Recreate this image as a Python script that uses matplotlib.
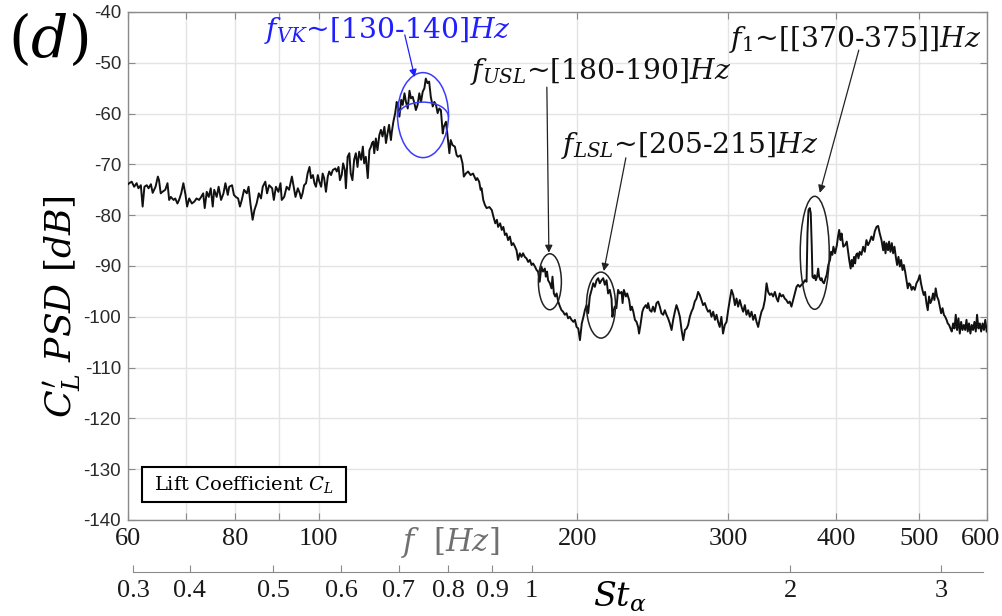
import matplotlib
matplotlib.use("Agg")
import matplotlib.pyplot as plt
from matplotlib.patches import Ellipse, Arc, Rectangle
from matplotlib.transforms import ScaledTranslation

plt.rcParams["axes.unicode_minus"] = False
plt.rcParams["mathtext.fontset"] = "dejavuserif"

# ---- lift-coefficient PSD, split into frequency bands ----
freq_a = [60.0, 60.2, 60.6, 61.0, 61.4, 61.7, 62.1, 62.4, 62.7, 63.1, 63.4, 63.8, 64.1, 64.6,
          65.0, 65.2, 65.5, 65.8, 66.3, 66.7, 67.0, 67.3, 67.8, 68.1, 68.5, 68.8, 69.2, 69.6,
          70.0, 70.3, 70.7, 71.2, 71.7, 72.1, 72.6, 73.0, 73.4, 73.7, 74.1, 74.5, 74.9, 75.3,
          75.6, 76.1, 76.5, 77.0, 77.5, 77.9, 78.4, 78.7, 79.3, 79.7, 80.1, 80.6, 81.0, 81.4,
          81.9, 82.5, 82.9, 83.3, 83.8, 84.2, 84.7, 85.2, 85.7, 86.1, 86.7, 87.1, 87.6, 88.3,
          88.7, 89.2, 89.8, 90.3, 90.6, 91.2, 91.8, 92.4, 93.1, 93.7]
psd_a = [-73.9, -73.7, -73.4, -74.4, -73.7, -74.7, -74.1, -78.3, -74.4, -74.1, -74.7, -73.9, -75.6, -74.4,
         -72.4, -73.1, -75.7, -75.4, -75.0, -73.7, -77.0, -76.4, -77.0, -76.7, -77.7, -77.0, -75.7, -73.7,
         -76.0, -78.3, -76.7, -77.7, -77.3, -76.7, -77.0, -76.4, -75.7, -78.6, -75.4, -76.4, -74.7, -78.3,
         -75.0, -76.4, -74.4, -77.0, -75.7, -73.7, -76.0, -74.4, -74.1, -76.0, -76.4, -76.7, -78.3, -77.0,
         -75.0, -75.7, -74.4, -77.7, -80.9, -79.0, -77.7, -75.7, -76.7, -74.4, -73.4, -75.7, -74.1, -74.7,
         -77.0, -74.4, -75.4, -73.7, -77.0, -76.4, -74.4, -75.0, -72.4, -75.0]

freq_b = [94.0, 94.6, 95.1, 95.4, 95.8, 96.2, 96.7, 97.1, 97.6, 98.0, 98.5, 98.9, 99.3, 99.8,
          100.2, 100.7, 101.1, 101.5, 102.0, 102.5, 102.9, 103.4, 103.9, 104.6, 105.0, 105.5, 105.9,
          106.4, 106.8, 107.3, 107.6, 108.1, 108.6, 109.0, 109.5, 110.0, 110.5, 111.0, 111.5, 112.1,
          112.6, 113.0, 113.5, 114.1, 114.6, 115.1, 115.4, 115.8, 116.1, 116.6, 117.1, 117.7, 118.2,
          118.7, 119.3, 119.8, 120.3, 120.8, 121.4, 121.7, 122.2, 122.8, 123.3, 123.7, 124.2, 124.8,
          125.3, 125.9, 126.4, 127.0, 127.6, 128.1, 128.7, 129.3, 129.8, 130.4, 131.0, 131.6, 132.2,
          132.8, 133.3, 133.9, 134.5, 135.1, 135.8, 136.4, 137.0, 137.6, 138.2, 138.8, 139.5]
psd_b = [-76.4, -74.7, -75.7, -76.7, -75.7, -74.1, -73.7, -71.8, -70.5, -72.7, -72.1, -73.7, -74.4, -72.1,
         -73.4, -74.4, -71.8, -72.7, -75.4, -72.4, -71.4, -72.1, -71.1, -70.8, -71.4, -70.5, -73.1,
         -72.1, -69.8, -71.1, -74.7, -68.5, -67.8, -71.8, -73.1, -69.1, -67.8, -70.5, -67.5, -69.1,
         -66.5, -69.8, -68.5, -72.7, -67.2, -66.5, -65.8, -65.5, -67.8, -64.9, -67.2, -64.2, -63.2,
         -64.5, -62.6, -65.8, -63.9, -62.2, -65.2, -63.6, -61.6, -59.9, -57.7, -58.6, -60.6, -57.3,
         -58.3, -56.0, -57.7, -59.0, -55.5, -57.0, -56.7, -58.0, -59.3, -58.3, -56.0, -57.7, -55.7,
         -55.0, -53.1, -54.0, -53.7, -56.7, -58.6, -57.7, -58.3, -59.9, -59.0, -59.3, -63.9]

freq_c = [139.9, 140.7, 141.2, 142.0, 142.5, 143.2, 144.1, 144.8, 145.3, 146.3, 147.1, 147.6, 148.4,
          149.3, 150.3, 151.3, 152.5, 153.0, 153.8, 154.4, 154.8, 155.5, 156.2, 156.9, 158.1, 159.1,
          159.8, 160.6, 161.3, 161.8, 162.7, 163.4, 164.1, 164.8, 165.5, 166.2, 167.0, 167.8, 168.5,
          169.3, 170.0, 170.7, 171.5, 172.3, 173.0, 173.8, 174.6, 175.4, 176.2, 177.0, 177.7, 178.6,
          179.4, 180.1, 180.9, 181.7, 182.5, 183.4, 183.9, 184.5, 185.0, 185.9, 186.7, 187.2, 187.9,
          188.6, 189.3, 190.1, 191.0, 191.8, 192.6, 193.5, 194.4, 195.2, 196.1, 197.0, 198.0, 198.8,
          199.7, 200.6, 201.5, 202.5, 203.4, 204.2, 205.1, 206.0, 206.9, 207.9, 208.8, 209.7, 210.7,
          211.6, 212.5, 213.5, 214.5, 215.4, 216.4, 217.3]
psd_c = [-62.6, -61.6, -63.9, -67.8, -65.2, -66.2, -66.5, -68.2, -68.5, -68.2, -69.8, -72.4, -71.8,
         -71.4, -72.1, -71.8, -73.1, -72.7, -73.4, -75.0, -74.7, -77.0, -78.0, -78.6, -78.4, -79.0,
         -80.3, -81.6, -80.9, -82.3, -81.6, -82.9, -82.3, -83.9, -83.6, -84.9, -84.2, -85.9, -85.5,
         -86.2, -86.9, -88.8, -87.5, -88.2, -87.5, -88.2, -88.5, -89.2, -88.8, -89.8, -89.5, -90.1,
         -90.8, -91.1, -93.1, -90.1, -91.1, -90.5, -92.1, -91.1, -92.8, -93.4, -94.4, -92.1, -95.4,
         -96.0, -95.4, -97.0, -98.0, -98.7, -99.0, -99.6, -99.3, -100.3, -100.0, -100.6, -101.0, -100.6,
         -102.0, -102.3, -104.6, -101.3, -100.0, -98.7, -97.7, -99.3, -96.0, -94.7, -93.4, -94.1, -92.8,
         -92.4, -93.4, -92.8, -92.4, -93.7, -92.8, -95.4]

freq_d = [218.3, 219.3, 219.8, 220.6, 221.2, 222.2, 223.2, 224.2, 225.3, 225.9, 226.7, 227.9, 228.7,
          229.9, 230.8, 231.6, 232.5, 233.5, 234.5, 235.5, 236.1, 237.0, 238.2, 239.0, 240.4, 241.3,
          241.9, 243.0, 244.1, 245.1, 246.2, 247.4, 248.5, 249.6, 250.7, 251.9, 253.0, 254.1, 255.2,
          256.4, 257.6, 258.7, 259.9, 261.0, 262.2, 263.4, 264.6, 265.8, 267.0, 268.2, 269.3, 270.5,
          271.7, 272.9, 274.1, 275.4, 276.6, 277.8, 279.1, 280.3, 281.6, 282.9, 284.1, 285.4, 286.7,
          288.0, 289.4, 290.6, 291.8, 293.1, 294.4, 295.7, 297.1, 298.5, 299.8, 301.1, 302.5, 303.9,
          305.3, 306.6, 307.9, 309.3, 310.7, 312.1, 313.5, 314.9, 316.3, 317.7, 319.2, 320.6, 322.1,
          323.5, 324.9, 326.4, 327.8, 329.3, 330.8, 332.3, 333.7]
psd_d = [-94.7, -96.4, -100.0, -98.7, -98.0, -98.3, -94.7, -95.4, -95.1, -97.3, -94.7, -96.0, -95.4,
         -96.7, -98.7, -98.0, -99.0, -100.6, -101.0, -102.0, -103.3, -101.6, -99.0, -98.3, -97.7, -98.3,
         -97.3, -98.7, -99.0, -98.0, -99.0, -97.3, -97.0, -98.0, -99.3, -99.6, -98.7, -99.6, -100.3,
         -101.3, -102.6, -100.6, -99.0, -97.7, -98.7, -100.0, -102.6, -104.6, -102.6, -102.3, -101.6, -100.0,
         -99.0, -98.3, -97.0, -96.4, -95.1, -95.7, -96.7, -97.7, -97.3, -98.3, -99.0, -98.7, -100.0,
         -99.0, -100.6, -99.6, -101.0, -102.0, -100.0, -103.3, -101.6, -101.0, -98.7, -96.7, -94.7, -95.7,
         -97.7, -96.4, -98.0, -96.7, -98.0, -99.0, -97.7, -99.6, -98.7, -100.0, -99.0, -100.6, -99.6,
         -101.0, -102.0, -100.3, -99.0, -98.3, -96.7, -93.4, -95.1]

freq_e = [335.2, 336.7, 338.2, 339.8, 341.4, 342.7, 344.2, 345.8, 347.3, 348.9, 350.4, 352.0, 353.6,
          355.2, 356.8, 358.4, 360.1, 361.6, 363.2, 364.9, 366.6, 368.2, 369.9, 370.8, 371.8, 373.1,
          374.1, 375.1, 375.8, 377.1, 378.1, 379.2, 380.5, 381.6, 382.6, 384.1, 385.1, 386.2, 387.6,
          388.6, 389.7, 390.4, 392.1, 393.9, 395.0, 396.4, 397.5, 399.3, 401.2, 402.5, 403.7, 405.2,
          406.3, 408.2, 410.1, 412.0, 413.5, 414.7, 416.3, 417.5, 418.6, 420.1, 421.3, 422.5, 424.0,
          425.1, 426.6, 428.5, 430.5, 432.4, 434.3, 436.2, 438.2, 440.2, 442.1, 444.1, 446.2]
psd_e = [-95.7, -95.4, -96.0, -95.1, -96.4, -97.0, -95.4, -96.0, -95.7, -96.4, -96.7, -97.3, -97.0,
         -98.0, -96.7, -95.4, -94.1, -93.7, -94.1, -93.7, -93.4, -92.8, -93.1, -83.6, -79.0, -78.6,
         -79.6, -86.2, -92.1, -92.4, -91.8, -92.8, -92.1, -90.5, -92.1, -92.8, -92.4, -93.1, -93.4,
         -92.8, -92.1, -91.8, -89.8, -88.8, -87.2, -87.8, -86.2, -87.5, -85.9, -84.2, -82.9, -84.9,
         -83.6, -86.2, -85.9, -85.2, -87.2, -88.8, -90.5, -88.8, -90.1, -88.2, -89.5, -87.8, -87.5,
         -88.5, -87.2, -87.8, -86.2, -87.2, -84.9, -85.9, -85.2, -84.2, -84.9, -83.2, -82.3]

freq_f = [448.1, 450.1, 452.2, 454.2, 455.4, 457.1, 458.3, 460.2, 461.5, 463.2, 464.9, 466.5, 468.2,
          469.9, 471.5, 473.2, 475.0, 476.6, 478.4, 480.1, 481.8, 483.5, 485.2, 486.9, 488.6, 490.3,
          492.1, 494.4, 496.6, 498.8, 501.0, 502.7, 504.6, 506.4, 508.2, 510.1, 511.9, 513.7, 515.6,
          517.4, 519.2, 521.1, 522.9, 524.8, 526.8, 528.7, 530.6, 532.6, 534.5, 536.4, 538.4, 540.1,
          542.0, 544.0, 545.9, 547.9, 549.9, 551.8, 553.7, 555.8, 557.8, 559.8, 561.9, 563.9, 565.9,
          567.9, 569.8, 571.8, 573.9, 575.9, 578.0, 580.1, 582.2, 584.2, 586.4, 588.6, 590.7, 592.9,
          595.1, 597.2, 599.5]
psd_f = [-82.1, -83.6, -84.9, -86.9, -85.2, -87.5, -85.5, -86.9, -85.2, -87.2, -85.5, -87.5, -86.2,
         -88.2, -89.8, -88.2, -90.1, -88.8, -90.8, -89.8, -91.1, -92.8, -94.4, -93.4, -93.7, -94.7,
         -94.1, -94.7, -93.4, -92.8, -91.8, -93.4, -94.7, -95.7, -95.1, -97.3, -98.7, -96.0, -97.3,
         -96.7, -95.4, -96.7, -94.4, -96.0, -96.7, -98.0, -99.3, -98.3, -99.6, -100.0, -100.6, -101.3,
         -101.6, -102.3, -102.9, -101.3, -102.3, -99.6, -102.6, -100.3, -103.3, -101.0, -102.6, -101.6, -102.6,
         -100.6, -102.9, -101.3, -103.3, -101.6, -102.6, -101.0, -102.9, -99.6, -102.3, -101.3, -102.9,
         -101.3, -102.6, -100.6, -102.9]

freq = freq_a + freq_b + freq_c + freq_d + freq_e + freq_f
psd = psd_a + psd_b + psd_c + psd_d + psd_e + psd_f

# ---- axes ticks ----
f_ticks = [60, 70, 80, 90, 100, 200, 300, 400, 500, 600]
f_tick_labels = ["60", "", "80", "", "100", "200", "300", "400", "500", "600"]
db_ticks = [-140, -130, -120, -110, -100, -90, -80, -70, -60, -50, -40]

# Strouhal axis: St_alpha = f / f_ref
f_ref = 177.0
st_ticks = [0.3, 0.4, 0.5, 0.6, 0.7, 0.8, 0.9, 1, 2, 3]
st_tick_labels = ["0.3", "0.4", "0.5", "0.6", "0.7", "0.8", "0.9", "1", "2", "3"]
st_span = (60.8, 594.0)  # frequency extent of the St axis line

# ---- highlighted bands: (f centre, dB centre, width px, height px) ----
bands = {
    "VK": (132.3, -60.3, 51, 85),
    "USL": (185.9, -93.1, 23, 56),
    "LSL": (213.2, -97.7, 29, 66),
    "f1": (378.1, -87.4, 29, 113),
}

W, H = 1002, 616
fig = plt.figure(figsize=(W / 100, H / 100), dpi=100)
ax = fig.add_axes([128 / W, 1 - 520 / H, 859 / W, 508 / H])

ax.plot(freq, psd, color="#111111", lw=1.4, zorder=3)

tick_font = dict(fontfamily="Liberation Serif", fontsize=19, color="#1a1a1a")
ax.set_xscale("log")
ax.minorticks_off()
# the last label sits flush with the figure edge, so it is drawn separately
ax.set_xticks(f_ticks, labels=f_tick_labels[:-1] + [""], **tick_font)
ax.set_yticks(db_ticks, labels=[str(v) for v in db_ticks], fontfamily="Liberation Sans",
              fontsize=13.5, color="#2a2a2a")
ax.grid(True, color="#e4e4e4", lw=1.0)
ax.set_axisbelow(True)
for s in ax.spines.values():
    s.set_color("#8a8a8a")
    s.set_linewidth(1.0)
ax.tick_params(direction="in", top=True, right=True, length=5, width=0.8, color="#8a8a8a")
ax.tick_params(axis="x", pad=6)
ax.tick_params(axis="y", pad=5)
fig.text(1000 / W, 1 - 528.3 / H, f_tick_labels[-1], ha="right", va="top", **tick_font)


def band_transform(f, db):
    return fig.dpi_scale_trans + ScaledTranslation(f, db, ax.transData)


blue = "#1f1fff"
for key, (fc, dbc, w, h) in bands.items():
    col = "#3b3bff" if key == "VK" else "#222222"
    ax.add_patch(Ellipse((0, 0), w / 100, h / 100, transform=band_transform(fc, dbc),
                         fill=False, ec=col, lw=1.1, zorder=4, clip_on=False))
fc, dbc, w, h = bands["VK"]
ax.add_patch(Arc((0, -0.02), w / 100, 0.30, theta1=0, theta2=180,
                 transform=band_transform(fc, dbc), ec="#3b3bff", lw=1.1, zorder=4))

arrow_kw = dict(arrowstyle="-|>", lw=0.9, mutation_scale=11, shrinkA=0, shrinkB=0)
ax.annotate("", xy=(129.4, -52.8), xytext=(126.0, -44.5),
            arrowprops=dict(color=blue, **arrow_kw), zorder=5)
ax.annotate("", xy=(185.4, -87.4), xytext=(184.4, -54.8),
            arrowprops=dict(color="#222222", **arrow_kw), zorder=5)
ax.annotate("", xy=(214.8, -91.0), xytext=(227.9, -68.7),
            arrowprops=dict(color="#222222", **arrow_kw), zorder=5)
ax.annotate("", xy=(383.3, -75.6), xytext=(425.5, -47.5),
            arrowprops=dict(color="#222222", **arrow_kw), zorder=5)

txt_kw = dict(fontfamily="DejaVu Serif", fontsize=20.3, ha="center", va="center", zorder=6)
ax.text(120.1, -43.6, r"$f_{VK}$~[130-140]$Hz$", color=blue, **txt_kw)
ax.text(213.2, -51.8, r"$f_{USL}$~[180-190]$Hz$", color="#111111", **txt_kw)
ax.text(270.5, -66.2, r"$f_{LSL}$~[205-215]$Hz$", color="#111111", **txt_kw)
ax.text(421.3, -45.5, r"$f_1$~[[370-375]]$Hz$", color="#111111", **txt_kw)

# label box
ax.add_patch(Rectangle((0.0163, 0.0354), 0.2375, 0.0689, transform=ax.transAxes,
                       fc="white", ec="black", lw=1.5, zorder=5))
ax.text(0.135, 0.0699, r"Lift Coefficient $C_L$", transform=ax.transAxes,
        fontfamily="DejaVu Serif", fontsize=14, ha="center", va="center", zorder=6)

ax.set_xlim(60, 600)
ax.set_ylim(-140, -40)

# secondary Strouhal axis
ax2 = fig.add_axes([128 / W, 1 - 572 / H, 859 / W, 0.001])
ax2.set_xscale("log")
ax2.set_xlim(60, 600)
ax2.minorticks_off()
st_pos = [max(s * f_ref, st_span[0]) for s in st_ticks]
ax2.set_xticks(st_pos, labels=st_tick_labels, **tick_font)
ax2.set_yticks([])
ax2.patch.set_visible(False)
for side in ("top", "left", "right"):
    ax2.spines[side].set_visible(False)
ax2.spines["bottom"].set_bounds(*st_span)
ax2.spines["bottom"].set_color("#8a8a8a")
ax2.tick_params(axis="x", direction="in", length=5, width=0.8, color="#8a8a8a", pad=6)

# figure-level labels
fig.text(48 / W, 1 - 40 / H, r"$(d)$", fontsize=42, ha="center", va="center")
fig.text(62 / W, 1 - 307 / H, r"$C_L'\ PSD\ [dB]$", fontsize=26, rotation=90,
         ha="center", va="center")
fig.text(450 / W, 1 - 543 / H, r"$f\ \ [Hz]$", fontsize=22, color="#707070",
         ha="center", va="center")
fig.text(620 / W, 1 - 597 / H, r"$St_{\alpha}$", fontsize=24, ha="center", va="center")

fig.savefig("out.png", dpi=100)
